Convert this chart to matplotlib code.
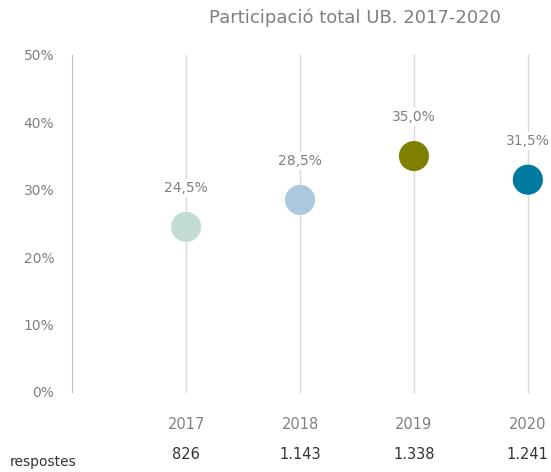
import numpy as np
import matplotlib.pyplot as plt

years = ["2017", "2018", "2019", "2020"]
participation = [24.5, 28.5, 35.0, 31.5]
responses = ["826", "1.143", "1.338", "1.241"]
colors = ["#c3ddd6", "#adc8de", "#808000", "#0079a0"]

plt.rcParams["font.family"] = ["DejaVu Sans"]

fig = plt.figure(figsize=(5.51, 4.72), dpi=100)
ax = fig.add_axes([0.131, 0.1695, 0.827, 0.714])

x = np.arange(1, len(years) + 1)

# vertical gridlines through each category
for xi in x:
    ax.axvline(xi, color="#d9d9d9", linewidth=1, zorder=1, clip_on=False)

ax.scatter(x, participation, s=470, c=colors, zorder=3, linewidths=0, clip_on=False)

for xi, v in zip(x, participation):
    ax.annotate(f"{v:.1f}%".replace(".", ","), (xi, v), xytext=(0, 28),
                textcoords="offset points", ha="center", va="center",
                fontsize=10, color="#808080",
                bbox=dict(boxstyle="square,pad=0.15", fc="white", ec="none"),
                zorder=4, annotation_clip=False)

ax.set_xlim(0, 4)
ax.set_ylim(0, 50)
ax.set_yticks(np.arange(0, 51, 10))
ax.set_yticklabels([f"{t}%" for t in range(0, 51, 10)])
ax.tick_params(axis="y", length=0, pad=13, labelsize=10, labelcolor="#808080")
ax.set_xticks(x)
ax.set_xticklabels(years)
ax.tick_params(axis="x", length=0, pad=18, labelsize=10.5, labelcolor="#808080")

for s in ["top", "right", "bottom"]:
    ax.spines[s].set_visible(False)
ax.spines["left"].set_color("#bfbfbf")

# responses row
for xi, r in zip(x, responses):
    ax.text(xi, -9.3, r, ha="center", va="center", fontsize=10.5, color="#333333",
            clip_on=False)
fig.text(0.018, 0.022, "respostes", ha="left", va="center", fontsize=10, color="#333333")

fig.text(0.645, 0.962, "Participació total UB. 2017-2020", ha="center", va="center",
         fontsize=13, color="#7f7f7f")

fig.savefig("out.png", dpi=100)
